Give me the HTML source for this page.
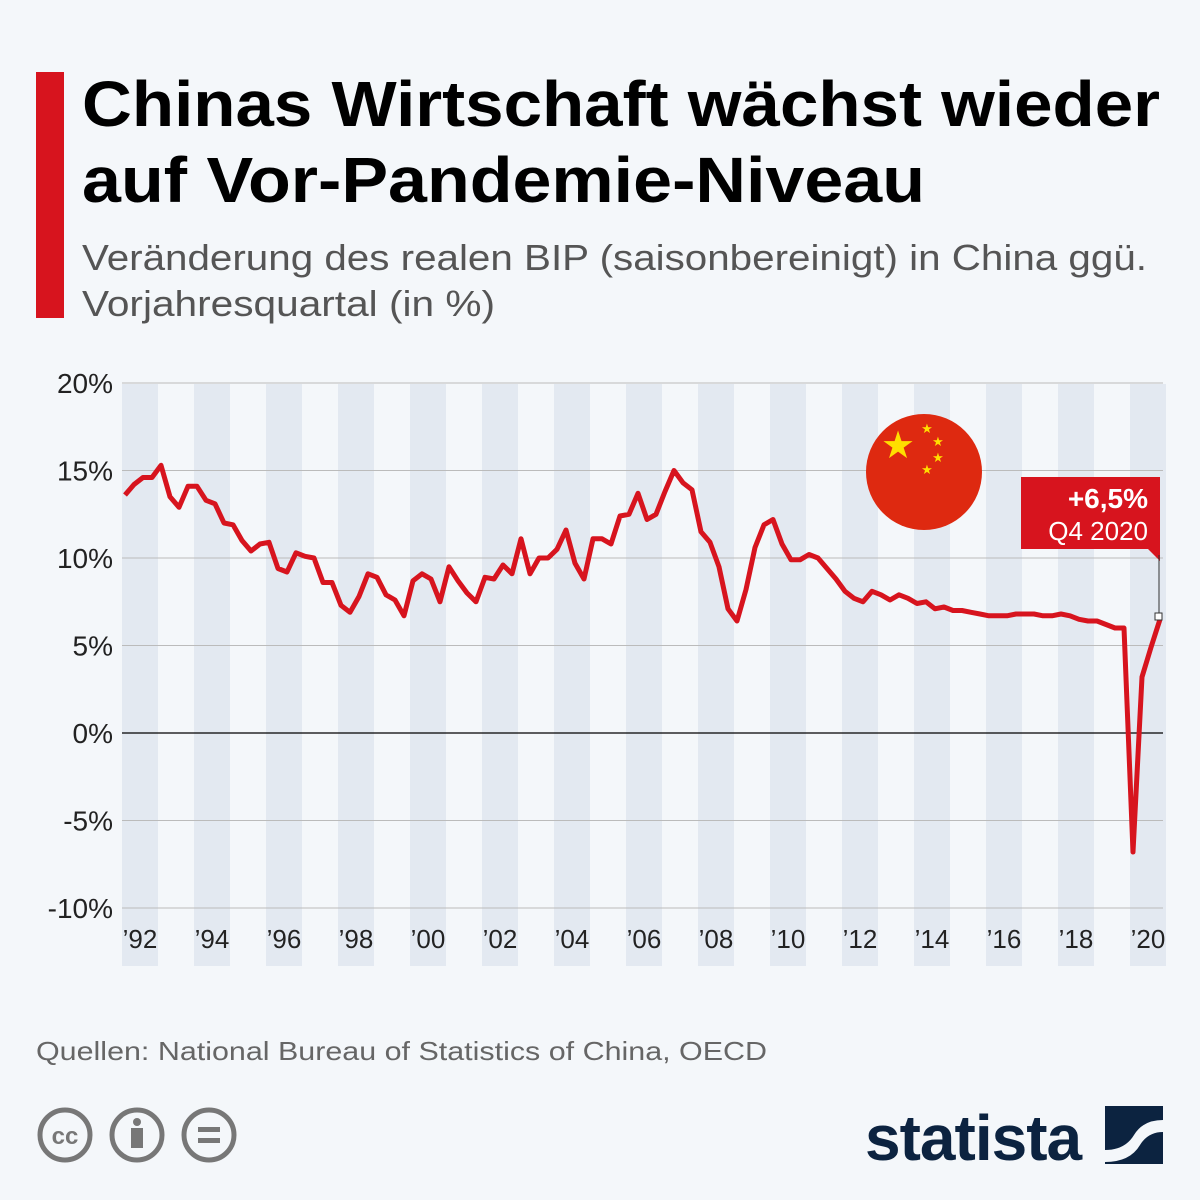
<!DOCTYPE html>
<html><head><meta charset="utf-8"><style>
body{margin:0;background:#f4f7fa;width:1200px;height:1200px;overflow:hidden;font-family:"Liberation Sans",sans-serif;}
</style></head><body>
<svg width="1200" height="1200" xmlns="http://www.w3.org/2000/svg" style="position:absolute;left:0;top:0">
<rect width="1200" height="1200" fill="#f4f7fa"/>
<rect x="36" y="72" width="28" height="246" fill="#d7141e"/>
<text x="82" y="126" font-size="64" font-weight="bold" fill="#000" font-family="Liberation Sans" textLength="1078" lengthAdjust="spacingAndGlyphs">Chinas Wirtschaft wächst wieder</text>
<text x="82" y="202" font-size="64" font-weight="bold" fill="#000" font-family="Liberation Sans" textLength="843" lengthAdjust="spacingAndGlyphs">auf Vor-Pandemie-Niveau</text>
<text x="82" y="270" font-size="36" fill="#555" font-family="Liberation Sans" textLength="1065" lengthAdjust="spacingAndGlyphs">Veränderung des realen BIP (saisonbereinigt) in China ggü.</text>
<text x="82" y="316" font-size="36" fill="#555" font-family="Liberation Sans" textLength="413" lengthAdjust="spacingAndGlyphs">Vorjahresquartal (in %)</text>
<g id="bands" fill="#e3e9f1"></g>
<g id="grid" stroke="#bbb" stroke-width="1"></g>
<line x1="122" x2="1163" y1="733" y2="733" stroke="#000" stroke-width="1.3"/>
<g id="ylab" font-size="28" fill="#222" text-anchor="end" font-family="Liberation Sans"></g>
<g id="xlab" font-size="26" fill="#222" text-anchor="middle" font-family="Liberation Sans"></g>
<polyline id="line" fill="none" stroke="#d7141e" stroke-width="5" stroke-linejoin="round"/>
<circle cx="924" cy="472" r="58" fill="#de2910"/>
<text x="898" y="458" font-size="38" fill="#ffde00" text-anchor="middle">★</text>
<text x="927" y="433" font-size="13" fill="#ffde00" text-anchor="middle">★</text>
<text x="938" y="446" font-size="13" fill="#ffde00" text-anchor="middle">★</text>
<text x="938" y="462" font-size="13" fill="#ffde00" text-anchor="middle">★</text>
<text x="927" y="474" font-size="13" fill="#ffde00" text-anchor="middle">★</text>
<rect x="1021" y="477" width="139" height="72" fill="#d7141e"/>
<polygon points="1148,549 1160,549 1160,561" fill="#d7141e"/>
<line x1="1159" y1="555" x2="1159" y2="617" stroke="#333" stroke-width="1"/>
<text x="1148" y="508" font-size="28" font-weight="bold" fill="#fff" text-anchor="end" font-family="Liberation Sans">+6,5%</text>
<text x="1148" y="540" font-size="26" fill="#fff" text-anchor="end" font-family="Liberation Sans">Q4 2020</text>
<rect x="1155" y="613" width="7" height="7" fill="#fff" stroke="#333" stroke-width="1"/>
<text x="36" y="1060" font-size="26" fill="#666" font-family="Liberation Sans" textLength="731" lengthAdjust="spacingAndGlyphs">Quellen: National Bureau of Statistics of China, OECD</text>
<g fill="none" stroke="#777" stroke-width="5">
<circle cx="65" cy="1135" r="25"/><circle cx="137" cy="1135" r="25"/><circle cx="209" cy="1135" r="25"/></g>
<text x="65" y="1144" font-size="24" font-weight="bold" fill="#777" text-anchor="middle" font-family="Liberation Sans">cc</text>
<circle cx="137" cy="1122" r="4" fill="#777"/><rect x="131" y="1128" width="12" height="20" fill="#777"/>
<rect x="198" y="1127" width="22" height="5" fill="#777"/><rect x="198" y="1138" width="22" height="5" fill="#777"/>
<text x="865" y="1160" font-size="64" font-weight="bold" fill="#0c2340" font-family="Liberation Sans" letter-spacing="-1">statista</text>
<rect x="1105" y="1106" width="58" height="58" fill="#0c2340"/>
<path d="M1105 1150 Q1125 1150 1134 1135 Q1143 1120 1163 1120 L1163 1132 Q1148 1132 1140 1145 Q1130 1162 1105 1162Z" fill="#f4f7fa"/>
</svg>
<script>
const ns="http://www.w3.org/2000/svg";
function el(g,t,a,txt){const e=document.createElementNS(ns,t);for(const k in a)e.setAttribute(k,a[k]);if(txt)e.textContent=txt;document.getElementById(g).appendChild(e);}
const Y=v=>733-v*17.5;
for(let y=1992;y<=2020;y+=2){el("bands","rect",{x:122+(y-1992)*36,y:384,width:36,height:582});
 el("xlab","text",{x:140+(y-1992)*36,y:948},"\u2019"+String(y%100).padStart(2,"0"));}
for(let v=20;v>=-10;v-=5){if(v!==0)el("grid","line",{x1:122,x2:1163,y1:Y(v),y2:Y(v)});
 el("ylab","text",{x:113,y:Y(v)+10},v+"%");}
const d=[13.6,14.2,14.6,14.6,15.3,13.5,12.9,14.1,14.1,13.3,13.1,12.0,11.9,11.0,10.4,10.8,10.9,9.4,9.2,10.3,10.1,10.0,8.6,8.6,7.3,6.9,7.8,9.1,8.9,7.9,7.6,6.7,8.7,9.1,8.8,7.5,9.5,8.7,8.0,7.5,8.9,8.8,9.6,9.1,11.1,9.1,10.0,10.0,10.5,11.6,9.7,8.8,11.1,11.1,10.8,12.4,12.5,13.7,12.2,12.5,13.8,15.0,14.3,13.9,11.5,10.9,9.5,7.1,6.4,8.2,10.6,11.9,12.2,10.8,9.9,9.9,10.2,10.0,9.4,8.8,8.1,7.7,7.5,8.1,7.9,7.6,7.9,7.7,7.4,7.5,7.1,7.2,7.0,7.0,6.9,6.8,6.7,6.7,6.7,6.8,6.8,6.8,6.7,6.7,6.8,6.7,6.5,6.4,6.4,6.2,6.0,6.0,-6.8,3.2,4.9,6.5];
document.getElementById("line").setAttribute("points",d.map((v,i)=>(125+9*i)+","+Y(v).toFixed(1)).join(" "));
</script>
</body></html>
